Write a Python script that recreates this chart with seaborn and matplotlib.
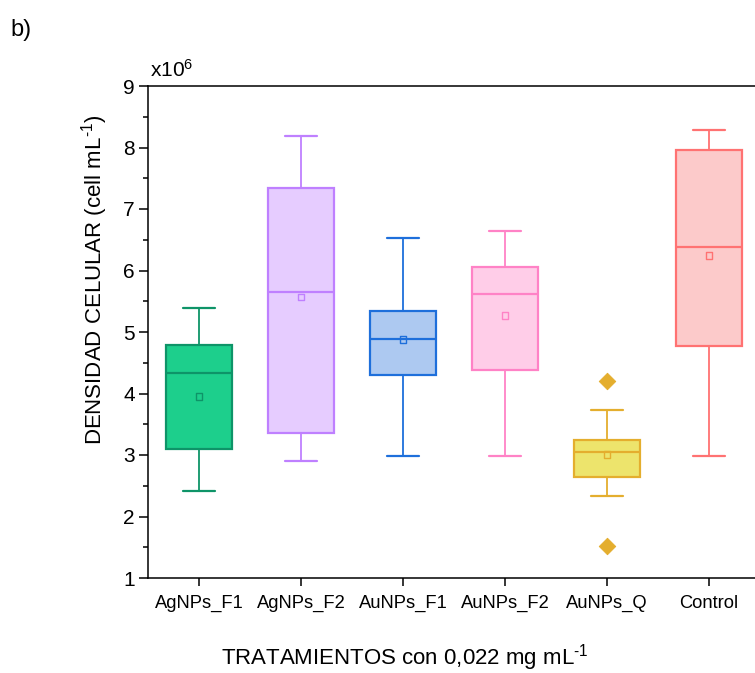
import matplotlib
matplotlib.use("Agg")
import matplotlib.pyplot as plt
from matplotlib.ticker import MultipleLocator
import seaborn as sns
import pandas as pd

# ---- data (x10^6 cell/mL) ----
groups = ["AgNPs_F1", "AgNPs_F2", "AuNPs_F1", "AuNPs_F2", "AuNPs_Q", "Control"]
whislo = [2.42, 2.91, 2.99, 2.99, 2.34, 2.99]
q1 = [3.10, 3.36, 4.30, 4.38, 2.64, 4.78]
med = [4.34, 5.65, 4.89, 5.61, 3.05, 6.38]
q3 = [4.79, 7.34, 5.34, 6.06, 3.24, 7.96]
whishi = [5.39, 8.19, 6.53, 6.64, 3.73, 8.29]
means = [3.95, 5.57, 4.88, 5.27, 3.01, 6.24]
outlier_group = ["AuNPs_Q", "AuNPs_Q"]
outlier_vals = [4.21, 1.52]

fills = ["#1DCF8C", "#E6CCFF", "#ADC9F1", "#FFCDE8", "#EDE46C", "#FCCACA"]
edges = ["#0E9468", "#BF80FF", "#1E6FDB", "#FF82C6", "#E4AE2E", "#FF7272"]

sns.set_theme(style="ticks")
plt.rcParams["font.family"] = ["Liberation Sans", "DejaVu Sans"]
plt.rcParams["mathtext.fontset"] = "custom"
plt.rcParams["mathtext.rm"] = "Liberation Sans"
plt.rcParams["mathtext.default"] = "regular"
for k in ["text.color", "axes.labelcolor", "xtick.color", "ytick.color"]:
    plt.rcParams[k] = "black"

fig = plt.figure(figsize=(7.55, 6.73), dpi=100)
ax = fig.add_axes([148 / 755, 95 / 673, 612 / 755, 492 / 673])

stats = []
for i, g in enumerate(groups):
    stats.append(dict(label=g, whislo=whislo[i], q1=q1[i], med=med[i],
                      q3=q3[i], whishi=whishi[i], fliers=[]))

bp = ax.bxp(stats, positions=range(len(groups)), widths=0.64, patch_artist=True,
            showfliers=False, capwidths=0.32)
for i in range(len(groups)):
    bp["boxes"][i].set(facecolor=fills[i], edgecolor=edges[i], linewidth=1.6)
    bp["medians"][i].set(color=edges[i], linewidth=1.6)
    for k in (2 * i, 2 * i + 1):
        bp["whiskers"][k].set(color=edges[i], linewidth=1.3)
        bp["caps"][k].set(color=edges[i], linewidth=1.6)

# mean markers (open squares)
for i, g in enumerate(groups):
    ax.scatter(i, means[i], marker="s", s=22, facecolor="none",
               edgecolor=edges[i], linewidth=1.0, zorder=5)

out_df = pd.DataFrame({"grupo": outlier_group, "valor": outlier_vals})
out_df["pos"] = out_df["grupo"].map({g: i for i, g in enumerate(groups)})
sns.scatterplot(data=out_df, x="pos", y="valor", marker="D", s=70,
                color=edges[4], edgecolor=edges[4], ax=ax, zorder=5, legend=False)

ax.set_xlim(-0.5, 5.5)
ax.set_ylim(1, 9)
ax.set_xticks(range(len(groups)))
ax.set_xticklabels(groups, fontsize=13.2)
ax.yaxis.set_major_locator(MultipleLocator(1))
ax.yaxis.set_minor_locator(MultipleLocator(0.5))
ax.tick_params(axis="y", which="major", length=6.5, width=1.1, labelsize=15, pad=3)
ax.tick_params(axis="y", which="minor", length=3.5, width=1.1)
ax.tick_params(axis="x", which="major", length=6, width=1.1, pad=6)
ax.set_xlabel("")
ax.set_ylabel("")
for s in ["left", "bottom", "top", "right"]:
    ax.spines[s].set_linewidth(1.1)
    ax.spines[s].set_color("black")

fig.text(150 / 755, 1 - 70 / 673, r"x10$^{6}$", fontsize=15, ha="left", va="center")
fig.text(10 / 755, 1 - 30 / 673, "b)", fontsize=17, ha="left", va="center")
fig.text(95 / 755, 1 - 280 / 673, r"DENSIDAD CELULAR (cell mL$^{\text{-}1}$)", fontsize=16,
         rotation=90, ha="center", va="center")
fig.text(405 / 755, 1 - 658 / 673, r"TRATAMIENTOS con 0,022 mg mL$^{\text{-}1}$", fontsize=16,
         ha="center", va="center")

fig.savefig("out.png", dpi=100)
